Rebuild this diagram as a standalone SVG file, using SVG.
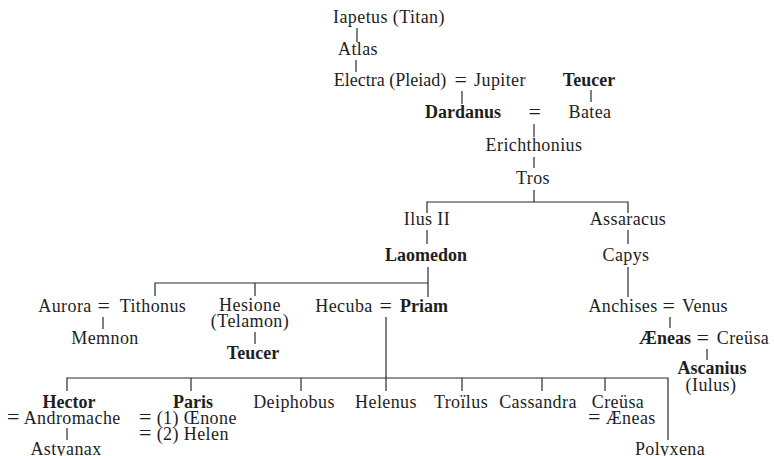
<svg xmlns="http://www.w3.org/2000/svg" width="774" height="456" viewBox="0 0 774 456">
<style>
text{font-family:"Liberation Serif","Times New Roman",serif;font-size:18px;fill:#1e1e1e;text-anchor:middle;letter-spacing:0.4px}
.b{font-weight:bold;letter-spacing:0}
.s{text-anchor:start}
.eq{font-size:22px}
.c line,.c path{stroke:#2a2a2a;stroke-width:1.2;fill:none}
</style>
<rect width="774" height="456" fill="#fff"/>
<g id="connectors" class="c">
<line x1="357" y1="28" x2="357" y2="42"/>
<line x1="356" y1="60" x2="356" y2="72"/>
<line x1="462" y1="91" x2="462" y2="104"/>
<line x1="591" y1="90" x2="591" y2="102"/>
<line x1="534" y1="124" x2="534" y2="137"/>
<line x1="534" y1="157" x2="534" y2="168"/>
<line x1="534" y1="190" x2="534" y2="202"/>
<path d="M427 213V202H628V213"/>
<line x1="427" y1="230" x2="427" y2="244"/>
<line x1="628" y1="230" x2="628" y2="244"/>
<line x1="428" y1="267" x2="428" y2="297"/>
<path d="M155 296V283H428"/>
<line x1="255" y1="283" x2="255" y2="296"/>
<line x1="628" y1="267" x2="628" y2="297"/>
<line x1="103" y1="317" x2="103" y2="329"/>
<line x1="255" y1="332" x2="255" y2="344"/>
<line x1="386" y1="317" x2="386" y2="391"/>
<line x1="670" y1="317" x2="670" y2="328"/>
<line x1="707" y1="349" x2="707" y2="360"/>
<path d="M67 391V378H668V440"/>
<line x1="191" y1="378" x2="191" y2="391"/>
<line x1="301" y1="378" x2="301" y2="391"/>
<line x1="462" y1="378" x2="462" y2="391"/>
<line x1="542" y1="378" x2="542" y2="391"/>
<line x1="605" y1="378" x2="605" y2="391"/>
<line x1="67" y1="428" x2="67" y2="440"/>
</g>
<g id="iapetus"><text x="389" y="23">Iapetus (Titan)</text></g>
<g id="atlas"><text x="358" y="55">Atlas</text></g>
<g id="electra-jupiter"><text x="390" y="86" style="letter-spacing:0">Electra (Pleiad)</text><text class="eq" x="461" y="87">=</text><text x="500" y="86">Jupiter</text></g>
<g id="teucer1"><text class="b" x="589" y="86">Teucer</text></g>
<g id="dardanus-batea"><text class="b" x="463" y="118">Dardanus</text><text class="eq" x="535" y="119">=</text><text x="590" y="118">Batea</text></g>
<g id="erichthonius"><text x="534" y="151">Erichthonius</text></g>
<g id="tros"><text x="533" y="184">Tros</text></g>
<g id="ilus"><text x="427" y="225">Ilus II</text></g>
<g id="assaracus"><text x="628" y="225">Assaracus</text></g>
<g id="laomedon"><text class="b" x="426" y="261">Laomedon</text></g>
<g id="capys"><text x="626" y="261">Capys</text></g>
<g id="aurora-tithonus"><text x="65" y="312">Aurora</text><text class="eq" x="104" y="313">=</text><text x="153" y="312">Tithonus</text></g>
<g id="memnon"><text x="105" y="344">Memnon</text></g>
<g id="hesione"><text x="250" y="311">Hesione</text><text x="250" y="327">(Telamon)</text></g>
<g id="teucer2"><text class="b" x="253" y="359">Teucer</text></g>
<g id="hecuba-priam"><text x="344" y="312">Hecuba</text><text class="eq" x="386" y="313">=</text><text class="b" x="424" y="312">Priam</text></g>
<g id="anchises-venus"><text x="623" y="312">Anchises</text><text class="eq" x="669" y="313">=</text><text x="705" y="312">Venus</text></g>
<g id="aeneas-creusa"><text class="b" x="665" y="344">Æneas</text><text class="eq" x="703" y="345">=</text><text x="743" y="344">Creüsa</text></g>
<g id="ascanius"><text class="b" x="712" y="374">Ascanius</text><text x="711" y="391">(Iulus)</text></g>
<g id="hector"><text class="b" x="69" y="408">Hector</text><text class="s" x="7" y="424"><tspan class="eq">=</tspan> Andromache</text></g>
<g id="astyanax"><text x="66" y="455">Astyanax</text></g>
<g id="paris"><text class="b" x="193" y="408">Paris</text><text class="s" x="139" y="424"><tspan class="eq">=</tspan> (1) Œnone</text><text class="s" x="139" y="440"><tspan class="eq">=</tspan> (2) Helen</text></g>
<g id="deiphobus"><text x="294" y="408">Deiphobus</text></g>
<g id="helenus"><text x="386" y="408">Helenus</text></g>
<g id="troilus"><text x="461" y="408">Troïlus</text></g>
<g id="cassandra"><text x="538" y="408">Cassandra</text></g>
<g id="creusa"><text x="618" y="408">Creüsa</text><text class="s" x="588" y="424"><tspan class="eq">=</tspan> Æneas</text></g>
<g id="polyxena"><text x="670" y="455">Polyxena</text></g>
</svg>
